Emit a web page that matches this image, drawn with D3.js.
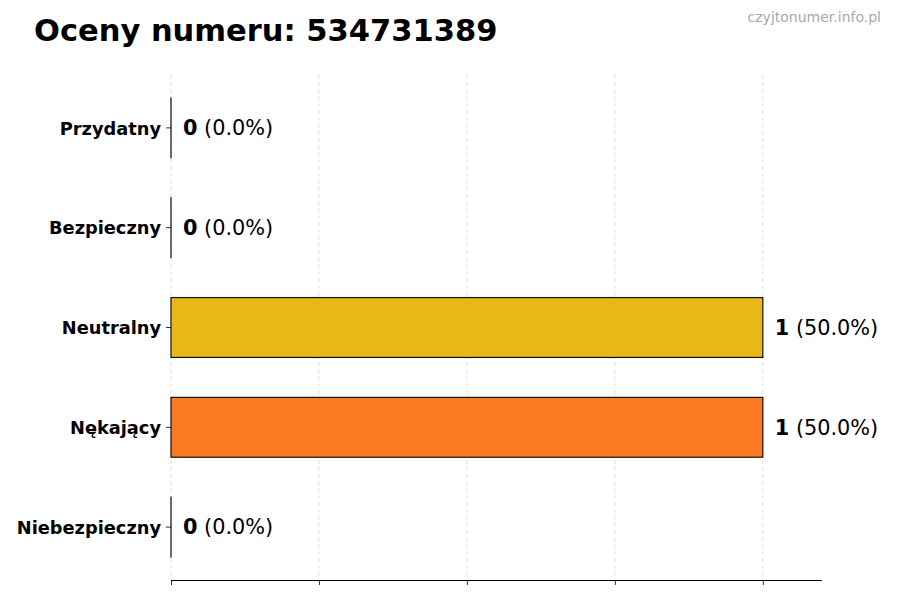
<!DOCTYPE html>
<html>
<head>
<meta charset="utf-8">
<script src="https://cdn.jsdelivr.net/npm/d3@7"></script>
<style>
  body { margin: 0; background: #fff; }
  svg { font-family: 'DejaVu Sans', sans-serif; display: block; }
</style>
</head>
<body>
<svg id="chart"></svg>
<script>
const categories = ['Przydatny', 'Bezpieczny', 'Neutralny', 'Nękający', 'Niebezpieczny'];
const counts = [0, 0, 1, 1, 0];
const percents = ['0.0%', '0.0%', '50.0%', '50.0%', '0.0%'];
const colors = ['#22C55E', '#3B82F6', '#E8B30A', '#F97316', '#EF4444'];
const xTicks = [0, 0.25, 0.5, 0.75, 1];

const svgWidth = 900;
const svgHeight = 600;
const margin = { top: 75, right: 78, bottom: 20, left: 171 };
const chartWidth = svgWidth - margin.left - margin.right;
const chartHeight = svgHeight - margin.top - margin.bottom;

const svg = d3.select('#chart')
  .attr('width', svgWidth)
  .attr('height', svgHeight);

const data = categories.map((c, i) => ({ name: c, count: counts[i], pct: percents[i], color: colors[i] }));

const xScale = d3.scaleLinear()
  .domain([0, 1.1])
  .range([0, chartWidth]);

const yScale = d3.scaleBand()
  .domain(categories)
  .range([0, chartHeight])
  .paddingInner(0.4)
  .paddingOuter(0.23);

const g = svg.append('g')
  .attr('transform', `translate(${margin.left}, ${margin.top})`);

// dashed grid
g.selectAll('.grid')
  .data(xTicks)
  .enter().append('line')
  .attr('class', 'grid')
  .attr('x1', d => xScale(d))
  .attr('x2', d => xScale(d))
  .attr('y1', 0)
  .attr('y2', chartHeight)
  .attr('stroke', '#d6d6d6')
  .attr('stroke-width', 0.8)
  .attr('stroke-dasharray', '4,3');

// zero-count bars still show their outline, so keep a hairline width
g.selectAll('.bar')
  .data(data)
  .enter().append('rect')
  .attr('class', 'bar')
  .attr('x', xScale(0))
  .attr('y', d => yScale(d.name))
  .attr('width', d => Math.max(xScale(d.count) - xScale(0), 0.01))
  .attr('height', yScale.bandwidth())
  .attr('fill', d => d.color)
  .attr('fill-opacity', 0.95)
  .attr('stroke', '#111')
  .attr('stroke-width', 1.2);

// value labels
const labels = g.selectAll('.val')
  .data(data)
  .enter().append('text')
  .attr('class', 'val')
  .attr('x', d => xScale(d.count) + 12)
  .attr('y', d => yScale(d.name) + yScale.bandwidth() / 2)
  .attr('dy', '0.35em')
  .style('font-size', '20.8px')
  .attr('fill', '#000');
labels.append('tspan').style('font-weight', 'bold').text(d => d.count);
labels.append('tspan').text(d => ` (${d.pct})`);

// axes
const yAxis = d3.axisLeft(yScale).tickSize(5).tickPadding(5);
const yG = g.append('g').call(yAxis);
yG.select('.domain').remove();
yG.selectAll('.tick line').attr('stroke', '#000').attr('stroke-width', 0.8);
yG.selectAll('.tick text')
  .attr('dy', '0.38em')
  .style('font-size', '17.8px')
  .style('font-weight', 'bold')
  .style('font-family', "'DejaVu Sans', sans-serif")
  .attr('fill', '#000');

const xAxis = d3.axisBottom(xScale).tickValues(xTicks).tickSize(5).tickFormat('');
const xG = g.append('g')
  .attr('transform', `translate(0, ${chartHeight})`)
  .call(xAxis);
xG.select('.domain').attr('d', `M0,0.5H${chartWidth}`).attr('stroke', '#000').attr('stroke-width', 1);
xG.selectAll('.tick line').attr('stroke', '#000').attr('stroke-width', 0.8);

// title and watermark
svg.append('text')
  .attr('x', 34)
  .attr('y', 41)
  .style('font-size', '30.5px')
  .style('font-weight', 'bold')
  .attr('fill', '#000')
  .text('Oceny numeru: 534731389');

svg.append('text')
  .attr('x', 881)
  .attr('y', 22)
  .attr('text-anchor', 'end')
  .style('font-size', '14px')
  .attr('fill', '#a8a8a8')
  .text('czyjtonumer.info.pl');
</script>
</body>
</html>
